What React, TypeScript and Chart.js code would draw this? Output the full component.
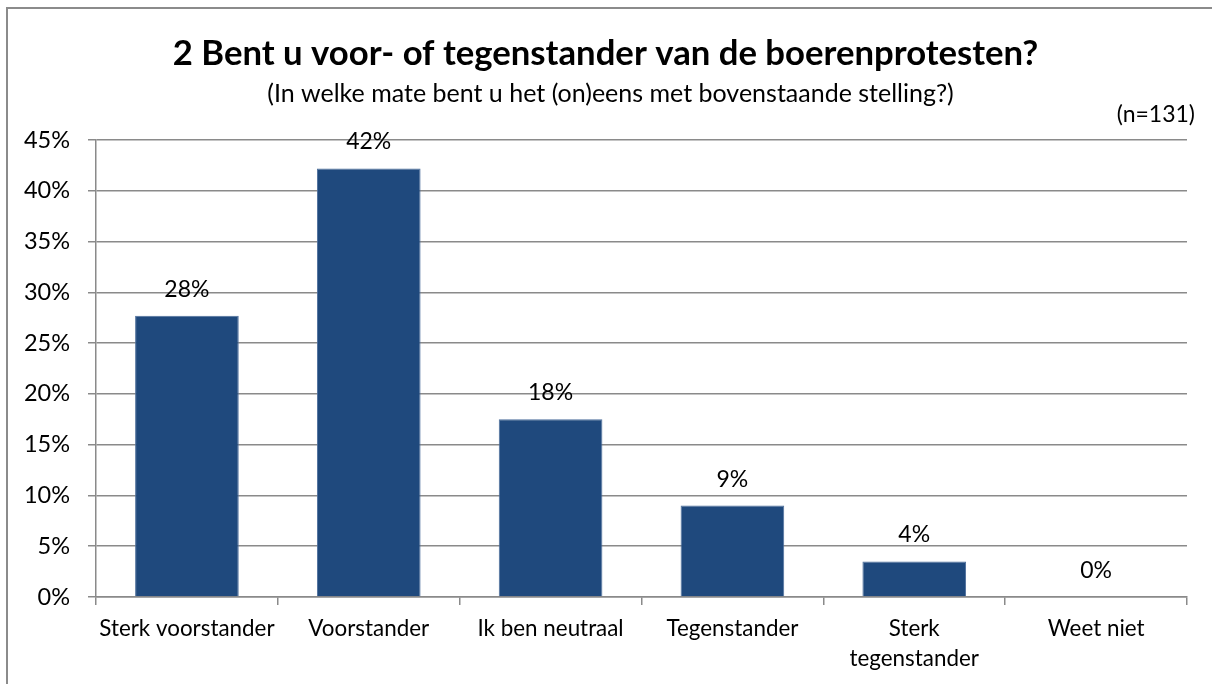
import React, { useEffect, useRef } from "react";
import { Chart, registerables } from "chart.js";

Chart.register(...registerables);

const categories: (string | string[])[] = [
  "Sterk voorstander",
  "Voorstander",
  "Ik ben neutraal",
  "Tegenstander",
  ["Sterk", "tegenstander"],
  "Weet niet",
];
const values = [27.7, 42.2, 17.5, 9.0, 3.5, 0];
const valueLabels = ["28%", "42%", "18%", "9%", "4%", "0%"];
const yMax = 45;
const yStep = 5;
const titleText = "2 Bent u voor- of tegenstander van de boerenprotesten?";
const subtitleText = "(In welke mate bent u het (on)eens met bovenstaande stelling?)";
const nText = "(n=131)";

const GRID = "#8a8a8a";
const BAR = "#1F497D";
const FONT = "Lato";

const textPlugin = {
  id: "texts",
  afterDraw(chart: any) {
    const ctx = chart.ctx as CanvasRenderingContext2D;
    ctx.save();
    ctx.fillStyle = "#000";
    ctx.textBaseline = "alphabetic";
    ctx.textAlign = "center";
    ctx.font = `bold 34.7px ${FONT}`;
    ctx.fillText(titleText, 605.5, 64.5);
    ctx.font = `25px ${FONT}`;
    ctx.fillText(subtitleText, 610.5, 101.5);
    ctx.font = `23px ${FONT}`;
    ctx.textAlign = "right";
    ctx.fillText(nText, 1195, 121.5);
    ctx.textAlign = "center";
    const meta = chart.getDatasetMeta(0);
    meta.data.forEach((bar: any, i: number) => {
      ctx.fillText(valueLabels[i], bar.x, bar.y - 19);
    });
    ctx.restore();
  },
};

export default function App() {
  const ref = useRef<HTMLCanvasElement | null>(null);
  useEffect(() => {
    if (!ref.current) return;
    const chart = new Chart(ref.current, {
      type: "bar",
      data: {
        labels: categories as any,
        datasets: [
          {
            data: values,
            backgroundColor: BAR,
            borderColor: "#4d6f9c",
            borderWidth: 1,
            barPercentage: 0.57,
            categoryPercentage: 1,
          },
        ],
      },
      options: {
        responsive: false,
        animation: false,
        layout: { padding: { top: 140, right: 25, bottom: 0, left: 0 } },
        plugins: {
          legend: { display: false },
          title: { display: false },
          tooltip: { enabled: false },
        },
        scales: {
          x: {
            grid: {
              drawOnChartArea: false,
              drawTicks: true,
              tickLength: 8,
              color: GRID,
              lineWidth: 1.5,
              offset: true,
            },
            border: { color: GRID, width: 1.5 },
            ticks: {
              color: "#000",
              font: { family: FONT, size: 22.4, lineHeight: "30px" as any },
              padding: 9,
              maxRotation: 0,
              autoSkip: false,
            },
            afterFit: (s: any) => {
              s.height = 87;
            },
          },
          y: {
            min: 0,
            max: yMax,
            ticks: {
              stepSize: yStep,
              callback: (v: any) => v + "%",
              padding: 18,
              color: "#000",
              font: { family: FONT, size: 23.5 },
            },
            grid: { color: GRID, lineWidth: 1.5, tickLength: 8 },
            border: { color: GRID, width: 1.5 },
            afterFit: (s: any) => {
              s.width = 96;
            },
          },
        },
      },
      plugins: [textPlugin],
    });
    return () => chart.destroy();
  }, []);

  return (
    <div
      style={{
        position: "fixed",
        left: 0,
        top: 0,
        width: 1212,
        height: 684,
        overflow: "hidden",
        background: "#fff",
      }}
    >
      <div
        style={{
          position: "absolute",
          left: 6,
          top: 7,
          width: 1400,
          height: 1000,
          border: "2px solid #8b8b8b",
        }}
      />
      <canvas
        ref={ref}
        width={1212}
        height={684}
        style={{ position: "absolute", left: 0, top: 0, width: 1212, height: 684 }}
      />
    </div>
  );
}
